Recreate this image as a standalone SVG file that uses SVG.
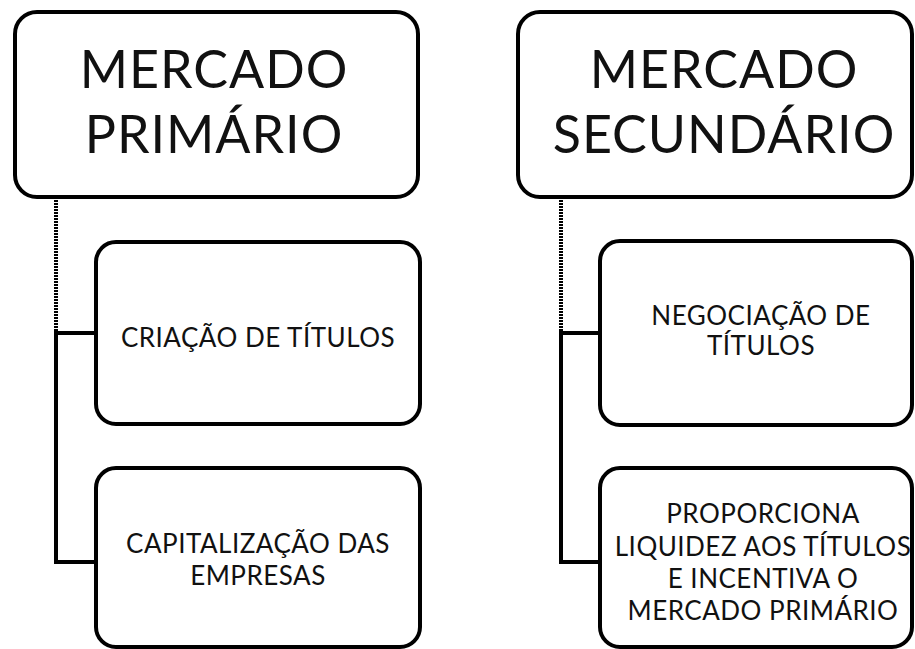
<svg xmlns="http://www.w3.org/2000/svg" width="915" height="649" viewBox="0 0 915 649">
<style>
.box{fill:#fff;stroke:#000;stroke-width:4}
.t{font-family:Lato,"Open Sans","Liberation Sans",sans-serif;fill:#111;text-anchor:middle}
.h{font-size:52px;letter-spacing:1px}
.s{font-size:26px;letter-spacing:0.5px}
.ln{stroke:#000;stroke-width:4;fill:none}
.dot{stroke:#000;stroke-width:4;stroke-dasharray:2 1;fill:none}
</style>
<rect width="915" height="649" fill="#fff"/>
<g id="connectors">
<line class="dot" x1="56" y1="197" x2="56" y2="332"/>
<polyline class="ln" points="96,333 56,333 56,562 96,562"/>
<line class="dot" x1="561" y1="197" x2="561" y2="332"/>
<polyline class="ln" points="600,333 561,333 561,562 600,562"/>
</g>
<g id="primario">
<rect class="box" x="15" y="12" width="403" height="185" rx="22"/>
<text class="t h" x="214" y="88">MERCADO</text>
<text class="t h" x="214" y="153">PRIMÁRIO</text>
</g>
<g id="criacao">
<rect class="box" x="96" y="242" width="324" height="182" rx="20"/>
<text class="t s" x="258" y="347">CRIAÇÃO DE TÍTULOS</text>
</g>
<g id="capitalizacao">
<rect class="box" x="96" y="468" width="324" height="179" rx="20"/>
<text class="t s" x="258" y="553">CAPITALIZAÇÃO DAS</text>
<text class="t s" x="258" y="585">EMPRESAS</text>
</g>
<g id="secundario">
<rect class="box" x="518" y="12" width="394" height="185" rx="22"/>
<text class="t h" x="724" y="88">MERCADO</text>
<text class="t h" x="724" y="153">SECUNDÁRIO</text>
</g>
<g id="negociacao">
<rect class="box" x="600" y="241" width="312" height="184" rx="20"/>
<text class="t s" x="761" y="325">NEGOCIAÇÃO DE</text>
<text class="t s" x="761" y="355">TÍTULOS</text>
</g>
<g id="proporciona">
<rect class="box" x="600" y="468" width="312" height="179" rx="20"/>
<text class="t s" x="763" y="523">PROPORCIONA</text>
<text class="t s" x="763" y="556">LIQUIDEZ AOS TÍTULOS</text>
<text class="t s" x="763" y="588">E INCENTIVA O</text>
<text class="t s" x="763" y="620">MERCADO PRIMÁRIO</text>
</g>
</svg>
